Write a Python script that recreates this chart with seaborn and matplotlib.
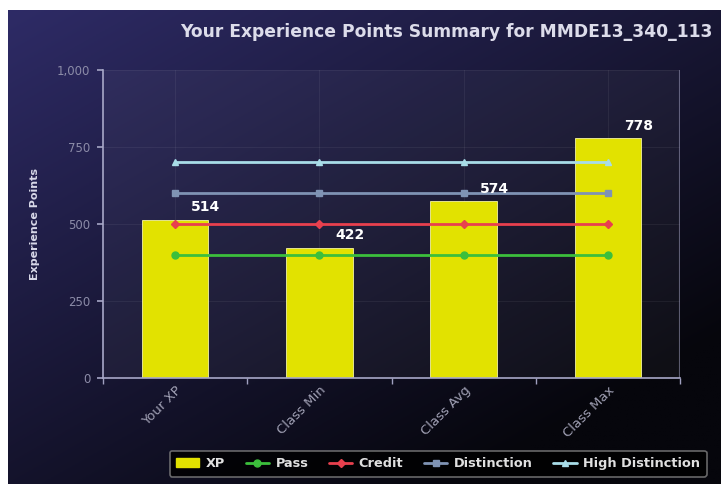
import numpy as np
import pandas as pd
import matplotlib
matplotlib.use('Agg')
import matplotlib.pyplot as plt
import seaborn as sns

# 데이터
categories = ['Your XP', 'Class Min', 'Class Avg', 'Class Max']
xp_values = [514, 422, 574, 778]
pass_line = [400, 400, 400, 400]
credit_line = [500, 500, 500, 500]
distinction_line = [600, 600, 600, 600]
high_dist_line = [700, 700, 700, 700]
y_ticks = [0, 250, 500, 750, 1000]
y_tick_labels = ['0', '250', '500', '750', '1,000']

sns.set_theme(style='dark')
plt.rcParams['font.family'] = ['DejaVu Sans']

fig = plt.figure(figsize=(7.21, 4.84), dpi=100, facecolor='white')

# 배경 그라데이션
bg = fig.add_axes([8 / 721, 0, 1 - 8 / 721, 474 / 484], zorder=0)
gx, gy = np.meshgrid(np.linspace(0, 1, 300), np.linspace(0, 1, 200))
g = np.clip(0.55 * gx + 0.65 * gy, 0, 1)
top = np.array([0x2e, 0x2b, 0x66]) / 255
bot = np.array([0x06, 0x06, 0x0c]) / 255
img = top[None, None, :] * (1 - g[..., None]) + bot[None, None, :] * g[..., None]
bg.imshow(img, aspect='auto', extent=[0, 1, 0, 1], origin='upper')
bg.set_axis_off()

ax = fig.add_axes([103 / 721, (484 - 378) / 484, (680 - 103) / 721, (378 - 70) / 484], zorder=1)
ax.set_facecolor((1, 1, 1, 0.04))

df = pd.DataFrame({'cat': categories, 'xp': xp_values})
sns.barplot(data=df, x='cat', y='xp', color='#e2e200', saturation=1, width=0.46,
            edgecolor='#f4f4a0', linewidth=0.6, ax=ax, zorder=2)

xs = np.arange(len(categories))
ax.plot(xs, pass_line, color='#3cbf3c', lw=2, marker='o', ms=5, zorder=3, label='Pass')
ax.plot(xs, credit_line, color='#e8404e', lw=2, marker='D', ms=4, zorder=3, label='Credit')
ax.plot(xs, distinction_line, color='#7f93b4', lw=2, marker='s', ms=4, zorder=3, label='Distinction')
ax.plot(xs, high_dist_line, color='#a8dce8', lw=2, marker='^', ms=5, zorder=3, label='High Distinction')

for i, v in enumerate(xp_values):
    ax.annotate(str(v), (i, v), xytext=(22, 4), textcoords='offset points',
                ha='center', va='bottom', color='white', fontsize=10, fontweight='bold')

ax.set_ylim(0, 1000)
ax.set_xlim(-0.49, 3.49)
ax.set_yticks(y_ticks)
ax.set_yticklabels(y_tick_labels, color='#8c8ca8', fontsize=8.5)
ax.set_xticks(xs)
ax.set_xticklabels(categories, rotation=45, ha='right', rotation_mode='anchor',
                   color='#a0a0b4', fontsize=9.5)
ax.set_xlabel('')
ax.set_ylabel('Experience Points', color='#d8d8e8', fontsize=8, fontweight='bold', labelpad=12)
ax.tick_params(axis='y', length=4, color='#a0a0c0', pad=5, left=True)
ax.set_xticks(np.arange(-0.5, 4.0, 1), minor=True)
ax.tick_params(axis='x', which='minor', length=4, color='#a0a0c0', bottom=True)
ax.tick_params(axis='x', which='major', length=0, pad=4)
ax.grid(True, color='#ffffff', alpha=0.06, lw=0.8)
ax.set_axisbelow(True)
for side in ['top', 'right']:
    ax.spines[side].set_visible(False)
for side in ['left', 'bottom']:
    ax.spines[side].set_color('#a8a8c8')
    ax.spines[side].set_linewidth(1.2)
ax.axvline(3.49, color='#a8a8c8', lw=0.8, alpha=0.5)

fig.text(0.619, 1 - 32 / 484, 'Your Experience Points Summary for MMDE13_340_113',
         ha='center', va='center', color='#dcdcea', fontsize=12.3, fontweight='bold')

handles, labels = ax.get_legend_handles_labels()
bar_patch = plt.Rectangle((0, 0), 1, 1, fc='#e2e200', ec='#e2e200')
leg = fig.legend([bar_patch] + handles, ['XP'] + labels, ncol=5,
                 loc='lower right', bbox_to_anchor=(713 / 721, 1 / 484),
                 frameon=True, fontsize=9.3, handlelength=1.8, columnspacing=1.6,
                 handletextpad=0.5, borderpad=0.5, fancybox=True)
leg.get_frame().set_facecolor('black')
leg.get_frame().set_edgecolor('#808080')
leg.get_frame().set_linewidth(1.2)
for t in leg.get_texts():
    t.set_color('#e0e0e0')
    t.set_fontweight('bold')

fig.savefig('out.png', dpi=100)
